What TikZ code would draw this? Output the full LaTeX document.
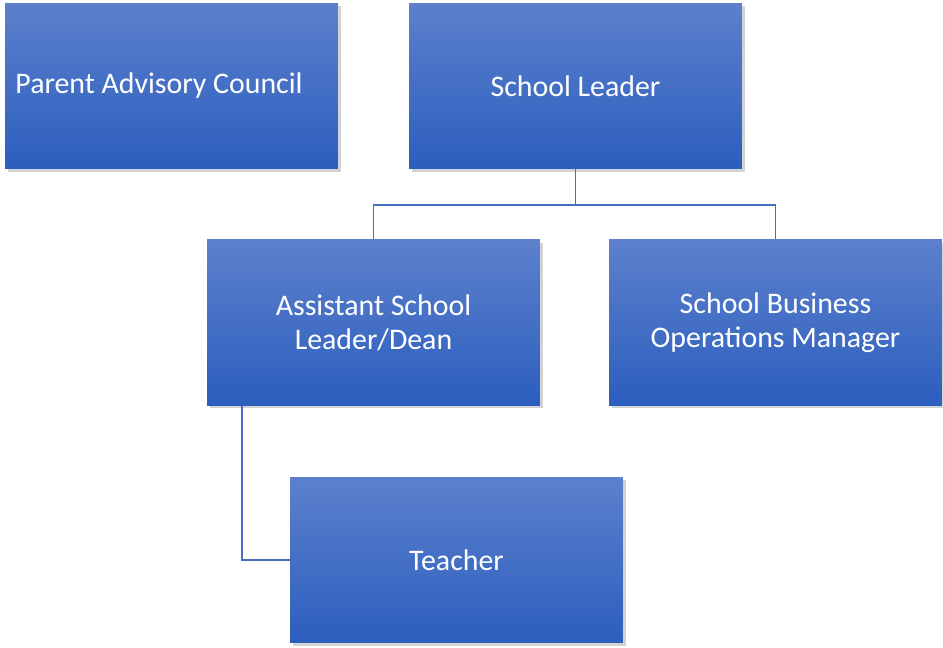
\documentclass[tikz,border=0pt]{standalone}
\usepackage{fontspec}
\setmainfont{Carlito}
\usetikzlibrary{shadows}
\definecolor{boxtop}{RGB}{92,128,204}
\definecolor{boxbottom}{RGB}{44,94,190}
\definecolor{linkblue}{RGB}{72,110,190}
\begin{document}
\begin{tikzpicture}[x=0.02cm,y=-0.02cm,
	rolebox/.style={minimum width=6.66cm, minimum height=3.32cm, inner sep=0pt,
		top color=boxtop, bottom color=boxbottom, text=white, align=center,
		font=\fontsize{17}{19.5}\selectfont,
		drop shadow={shadow xshift=0.6mm, shadow yshift=-0.6mm, opacity=0.35}},
	link/.style={draw=linkblue, line width=0.7pt}]
				\useasboundingbox (0,0) rectangle (943,647);

				\node[rolebox] (pac) at (171.5, 86)   {Parent Advisory Council\hspace*{0.5cm}};
				\node[rolebox] (leader) at (575.5, 86)  {School Leader};
				\node[rolebox] (dean) at (373.5, 322.5) {Assistant School\\Leader/Dean};
				\node[rolebox] (ops) at (775.5, 322.5)  {School Business\\Operations Manager};
				\node[rolebox] (teacher) at (456.5, 560) {Teacher};

				\coordinate (split) at (575.5, 205);
				\path [link] (leader.south) -- (split);
				\path [link] (split) -| (dean.north);
				\path [link] (split) -| (ops.north);
				\path [link] ([xshift=-2.63cm]dean.south) |- (teacher.west);
			\end{tikzpicture}
\end{document}
